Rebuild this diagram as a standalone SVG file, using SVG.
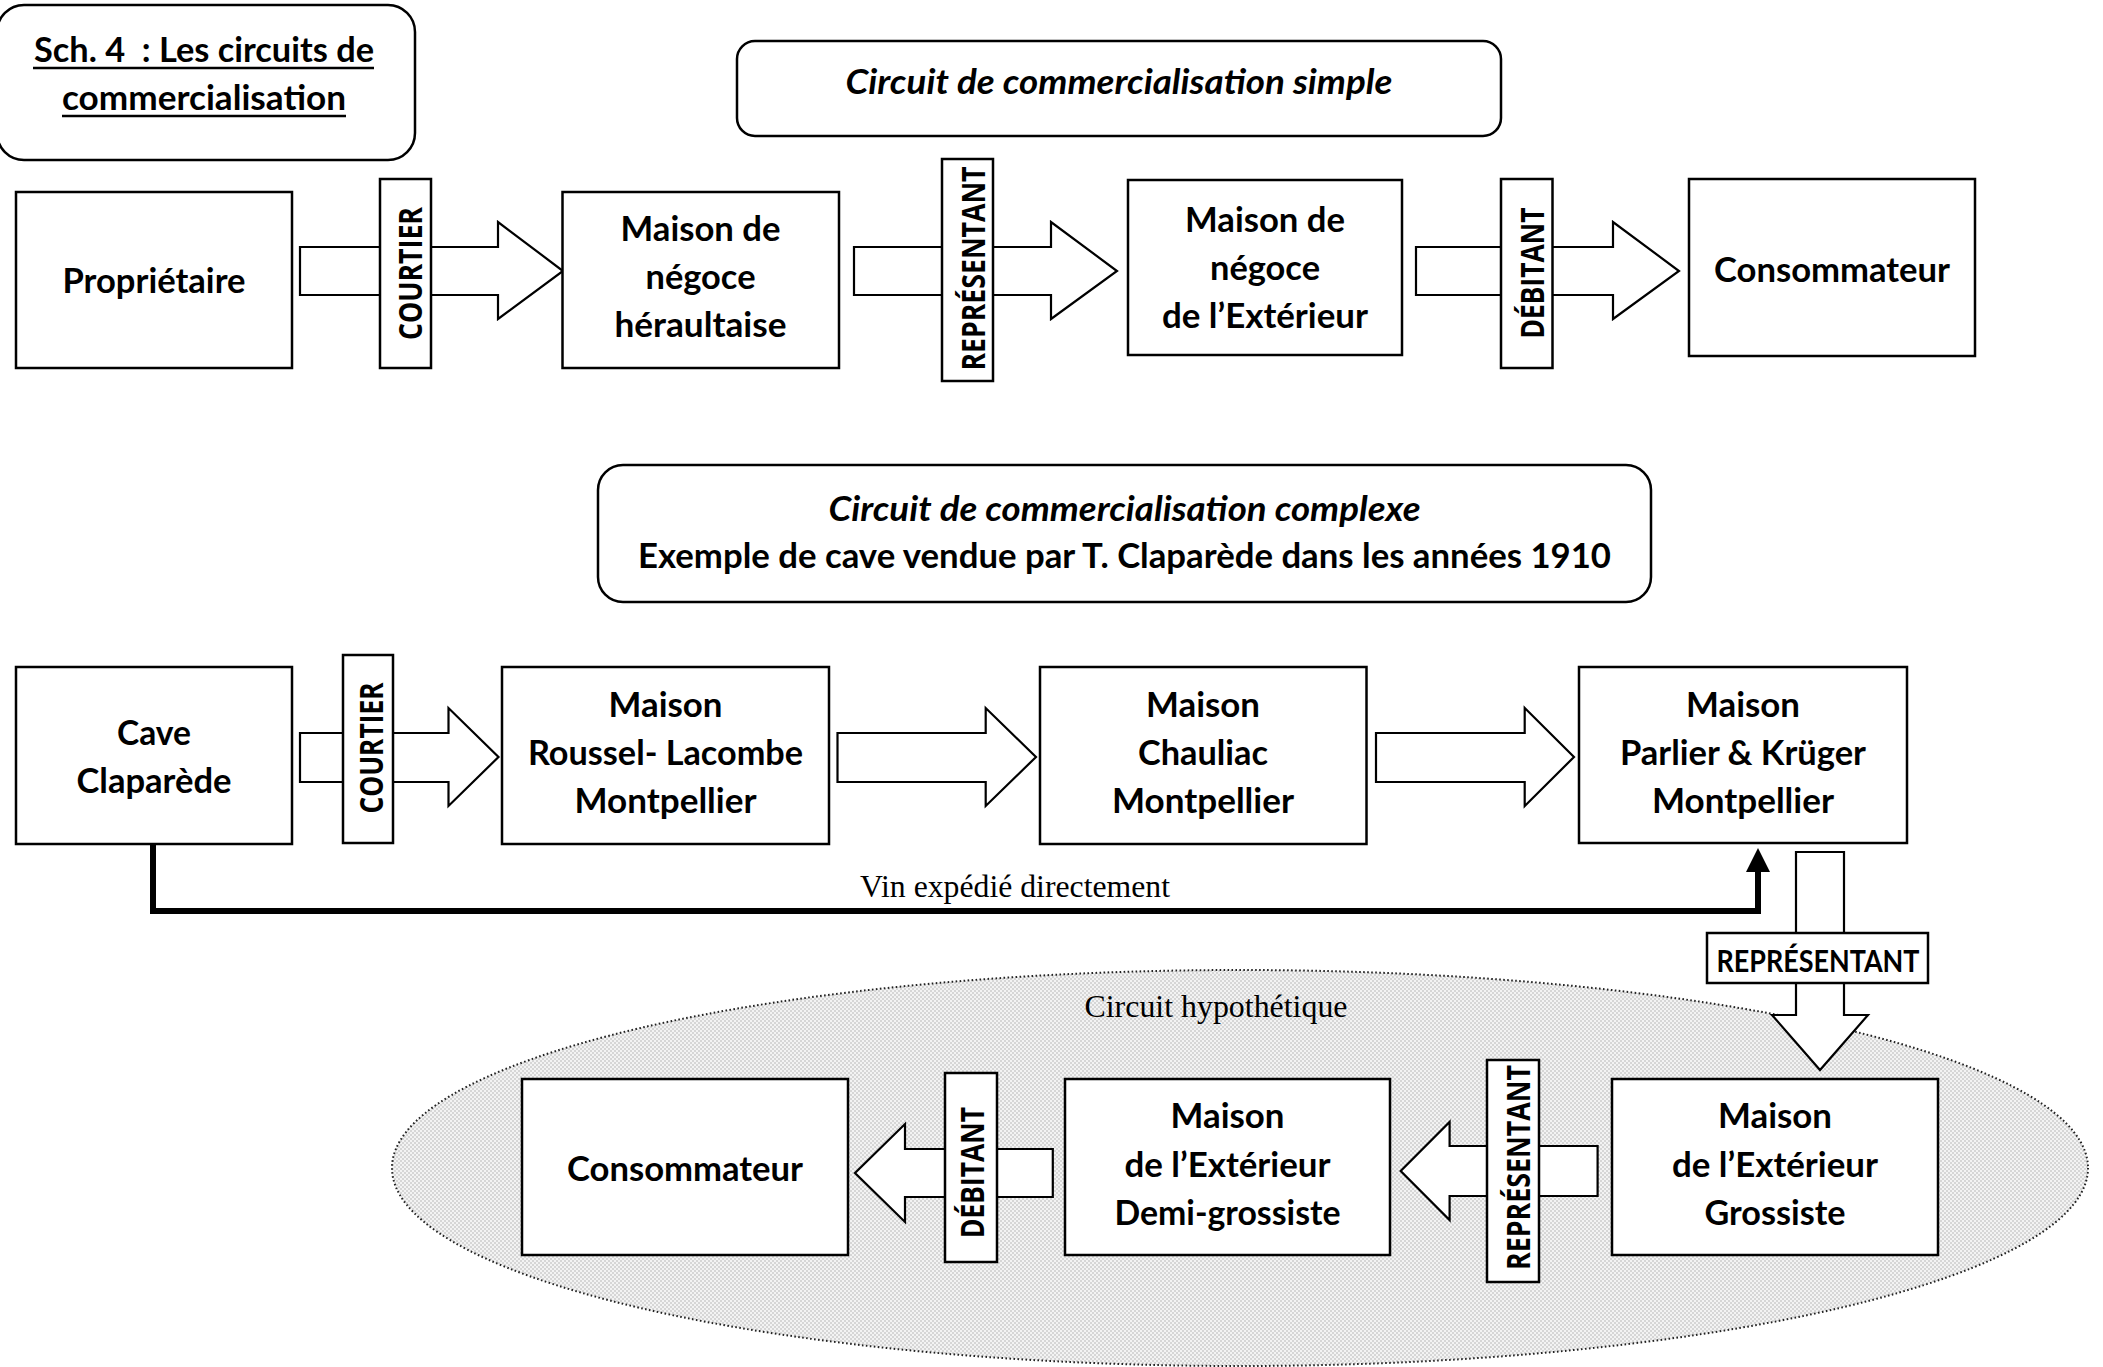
<svg xmlns="http://www.w3.org/2000/svg" width="2103" height="1367" viewBox="0 0 2103 1367">
<defs>
<style>
.n{font-family:Lato,'Liberation Sans',sans-serif;font-weight:700;font-size:35px;text-anchor:middle;fill:#000}
.it{font-style:italic}
.lbl{font-family:'Open Sans','DejaVu Sans',sans-serif;font-weight:700;font-size:32px;text-anchor:middle;fill:#000}
.tm{font-family:'Liberation Serif','Times New Roman',serif;font-size:31px;text-anchor:middle;fill:#000}
.box{fill:#fff;stroke:#000;stroke-width:2.5}
.rbox{fill:#fff;stroke:#000;stroke-width:2.5}
.arr{fill:#fff;stroke:#000;stroke-width:2.2;stroke-linejoin:miter}
.tag{fill:#fff;stroke:#000;stroke-width:2.5}
</style>
<pattern id="hatch" width="4" height="4" patternUnits="userSpaceOnUse">
<rect width="4" height="4" fill="#f3f3f3"/>
<rect width="2" height="2" fill="#d6d6d6"/>
<rect x="2" y="2" width="2" height="2" fill="#d6d6d6"/>
</pattern>
<marker id="ah" markerUnits="userSpaceOnUse" markerWidth="24" markerHeight="24" viewBox="0 0 24 24" refX="0" refY="12" orient="auto">
<path d="M0,0 L24,12 L0,24 z" fill="#000"/>
</marker>
</defs>
<rect width="2103" height="1367" fill="#fff"/>

<!-- background zone -->
<g id="zone-hypothetique">
<ellipse cx="1240" cy="1168" rx="848" ry="198" fill="url(#hatch)" stroke="#222" stroke-width="2" stroke-dasharray="1.6 2.4"/>
<text class="tm" x="1216" y="1017" textLength="263" lengthAdjust="spacingAndGlyphs">Circuit hypothétique</text>
</g>

<!-- titles -->
<g id="title">
<rect class="rbox" x="-3" y="5" width="418" height="155" rx="27"/>
<text class="n" x="204" y="62" style="white-space:pre" textLength="340" lengthAdjust="spacingAndGlyphs">Sch. 4  : Les circuits de</text>
<line x1="33" y1="68" x2="374" y2="68" stroke="#000" stroke-width="2.5"/>
<text class="n" x="204" y="110" textLength="284" lengthAdjust="spacingAndGlyphs">commercialisation</text>
<line x1="62" y1="116" x2="346" y2="116" stroke="#000" stroke-width="2.5"/>
</g>
<g id="title-simple">
<rect class="rbox" x="737" y="41" width="764" height="95" rx="18"/>
<text class="n it" x="1119" y="94" textLength="547" lengthAdjust="spacingAndGlyphs">Circuit de commercialisation simple</text>
</g>
<g id="title-complexe">
<rect class="rbox" x="598" y="465" width="1053" height="137" rx="25"/>
<text class="n it" x="1124.5" y="521" textLength="592" lengthAdjust="spacingAndGlyphs">Circuit de commercialisation complexe</text>
<text class="n" x="1124.5" y="568" textLength="973" lengthAdjust="spacingAndGlyphs">Exemple de cave vendue par T. Claparède dans les années 1910</text>
</g>

<!-- connectors -->
<g id="connectors">
<!-- top row -->
<polygon class="arr" points="300,247 498,247 498,222 563,271 498,319 498,295 300,295"/>
<polygon class="arr" points="854,247 1051,247 1051,222 1117,271 1051,319 1051,295 854,295"/>
<polygon class="arr" points="1416,247 1613,247 1613,222 1679,271 1613,319 1613,295 1416,295"/>
<rect class="tag" x="380" y="179" width="51" height="189"/>
<text class="lbl" transform="translate(421.5,273.5) rotate(-90)" textLength="133" lengthAdjust="spacingAndGlyphs">COURTIER</text>
<rect class="tag" x="942" y="159" width="51" height="222"/>
<text class="lbl" transform="translate(984.5,268.5) rotate(-90)" textLength="204" lengthAdjust="spacingAndGlyphs">REPRÉSENTANT</text>
<rect class="tag" x="1501" y="179" width="51.5" height="189"/>
<text class="lbl" transform="translate(1543.5,273) rotate(-90)" textLength="131" lengthAdjust="spacingAndGlyphs">DÉBITANT</text>

<!-- complex row -->
<polygon class="arr" points="300,733 448.5,733 448.5,708 498.5,757 448.5,806 448.5,782 300,782"/>
<polygon class="arr" points="837.5,733 985.7,733 985.7,708 1036,757 985.7,806 985.7,782 837.5,782"/>
<polygon class="arr" points="1376,733 1524.7,733 1524.7,708 1574,757 1524.7,806 1524.7,782 1376,782"/>
<rect class="tag" x="343" y="655" width="50" height="188"/>
<text class="lbl" transform="translate(383,748) rotate(-90)" textLength="131" lengthAdjust="spacingAndGlyphs">COURTIER</text>

<path d="M153,844 V911 H1758 V872" fill="none" stroke="#000" stroke-width="6" stroke-linejoin="miter" marker-end="url(#ah)"/>
<text class="tm" x="1015" y="897" textLength="310" lengthAdjust="spacingAndGlyphs">Vin expédié directement</text>

<!-- down arrow -->
<polygon class="arr" points="1796,852 1844,852 1844,1015 1868,1015 1820,1070 1772,1015 1796,1015"/>
<rect class="tag" x="1707" y="933" width="221" height="50"/>
<text class="n" x="1818" y="972" style="font-size:30px" textLength="203" lengthAdjust="spacingAndGlyphs">REPRÉSENTANT</text>

<!-- bottom row (leftward) -->
<polygon class="arr" points="1597.6,1146 1449.6,1146 1449.6,1122 1400.7,1171 1449.6,1220 1449.6,1196 1597.6,1196"/>
<rect class="tag" x="1487" y="1060" width="52" height="222"/>
<text class="lbl" transform="translate(1529.5,1167.5) rotate(-90)" textLength="205" lengthAdjust="spacingAndGlyphs">REPRÉSENTANT</text>
<polygon class="arr" points="1052.8,1149 905,1149 905,1124 855,1173 905,1222 905,1197 1052.8,1197"/>
<rect class="tag" x="945" y="1073" width="52" height="189"/>
<text class="lbl" transform="translate(983.5,1172.5) rotate(-90)" textLength="131" lengthAdjust="spacingAndGlyphs">DÉBITANT</text>
</g>

<!-- nodes: simple circuit -->
<g id="proprietaire">
<rect class="box" x="16" y="192" width="276" height="176"/>
<text class="n" x="154" y="293" textLength="183" lengthAdjust="spacingAndGlyphs">Propriétaire</text>
</g>
<g id="maison-heraultaise">
<rect class="box" x="562.5" y="192" width="276.5" height="176"/>
<text class="n" x="700.5" y="241" textLength="160" lengthAdjust="spacingAndGlyphs">Maison de</text>
<text class="n" x="700.5" y="289" textLength="110" lengthAdjust="spacingAndGlyphs">négoce</text>
<text class="n" x="700.5" y="337" textLength="172" lengthAdjust="spacingAndGlyphs">héraultaise</text>
</g>
<g id="maison-exterieur">
<rect class="box" x="1128" y="180" width="274" height="175"/>
<text class="n" x="1265" y="232" textLength="160" lengthAdjust="spacingAndGlyphs">Maison de</text>
<text class="n" x="1265" y="280" textLength="110" lengthAdjust="spacingAndGlyphs">négoce</text>
<text class="n" x="1265" y="328" textLength="206" lengthAdjust="spacingAndGlyphs">de l’Extérieur</text>
</g>
<g id="consommateur-simple">
<rect class="box" x="1689" y="179" width="286" height="177"/>
<text class="n" x="1832" y="282" textLength="236" lengthAdjust="spacingAndGlyphs">Consommateur</text>
</g>

<!-- nodes: complex circuit -->
<g id="cave-claparede">
<rect class="box" x="16" y="667" width="276" height="177"/>
<text class="n" x="154" y="745" textLength="74" lengthAdjust="spacingAndGlyphs">Cave</text>
<text class="n" x="154" y="793" textLength="155" lengthAdjust="spacingAndGlyphs">Claparède</text>
</g>
<g id="maison-roussel-lacombe">
<rect class="box" x="502" y="667" width="327" height="177"/>
<text class="n" x="665.5" y="717" textLength="114" lengthAdjust="spacingAndGlyphs">Maison</text>
<text class="n" x="665.5" y="765" textLength="275" lengthAdjust="spacingAndGlyphs">Roussel- Lacombe</text>
<text class="n" x="665.5" y="813" textLength="182" lengthAdjust="spacingAndGlyphs">Montpellier</text>
</g>
<g id="maison-chauliac">
<rect class="box" x="1040" y="667" width="326.5" height="177"/>
<text class="n" x="1203" y="717" textLength="114" lengthAdjust="spacingAndGlyphs">Maison</text>
<text class="n" x="1203" y="765" textLength="130" lengthAdjust="spacingAndGlyphs">Chauliac</text>
<text class="n" x="1203" y="813" textLength="182" lengthAdjust="spacingAndGlyphs">Montpellier</text>
</g>
<g id="maison-parlier-kruger">
<rect class="box" x="1579" y="667" width="328" height="176"/>
<text class="n" x="1743" y="717" textLength="114" lengthAdjust="spacingAndGlyphs">Maison</text>
<text class="n" x="1743" y="765" textLength="246" lengthAdjust="spacingAndGlyphs">Parlier &amp; Krüger</text>
<text class="n" x="1743" y="813" textLength="182" lengthAdjust="spacingAndGlyphs">Montpellier</text>
</g>

<!-- nodes: hypothetical circuit -->
<g id="maison-exterieur-grossiste">
<rect class="box" x="1612" y="1079" width="326" height="176"/>
<text class="n" x="1775" y="1128" textLength="114" lengthAdjust="spacingAndGlyphs">Maison</text>
<text class="n" x="1775" y="1177" textLength="206" lengthAdjust="spacingAndGlyphs">de l’Extérieur</text>
<text class="n" x="1775" y="1225" textLength="141" lengthAdjust="spacingAndGlyphs">Grossiste</text>
</g>
<g id="maison-exterieur-demi-grossiste">
<rect class="box" x="1065" y="1079" width="325" height="176"/>
<text class="n" x="1227.5" y="1128" textLength="114" lengthAdjust="spacingAndGlyphs">Maison</text>
<text class="n" x="1227.5" y="1177" textLength="206" lengthAdjust="spacingAndGlyphs">de l’Extérieur</text>
<text class="n" x="1227.5" y="1225" textLength="226" lengthAdjust="spacingAndGlyphs">Demi-grossiste</text>
</g>
<g id="consommateur-hypothetique">
<rect class="box" x="522" y="1079" width="326" height="176"/>
<text class="n" x="685" y="1181" textLength="236" lengthAdjust="spacingAndGlyphs">Consommateur</text>
</g>
</svg>
